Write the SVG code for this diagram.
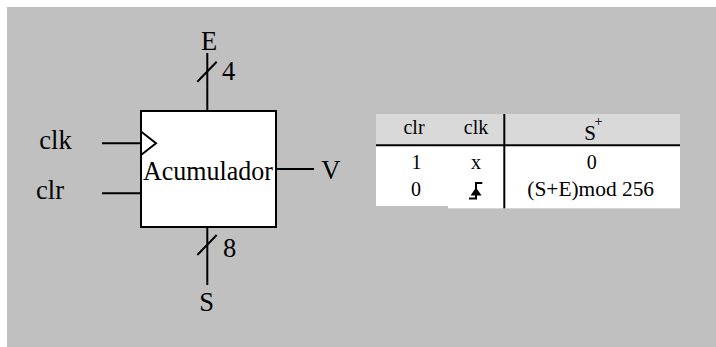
<svg xmlns="http://www.w3.org/2000/svg" width="716" height="347" viewBox="0 0 716 347">
<style>
text{font-family:"Liberation Serif","Times New Roman",serif;fill:#000}
.big{font-size:26.5px}
.sm{font-size:20px}
.ln{stroke:#000;stroke-width:2;fill:none}
</style>
<rect x="0" y="0" width="716" height="347" fill="#ffffff"/>
<rect x="7" y="7" width="709" height="340" fill="#c0c0c0"/>

<g id="acumulador" font-family="Liberation Serif, serif">
  <rect x="141" y="111" width="135" height="116" fill="#ffffff" stroke="#000" stroke-width="2"/>
  <polyline class="ln" points="141,131.5 156,143.3 141,155"/>
  <text class="big" x="208" y="179.5" text-anchor="middle" textLength="130" lengthAdjust="spacingAndGlyphs">Acumulador</text>
</g>

<g id="connectors">
  <line class="ln" x1="207.3" y1="53" x2="207.3" y2="111"/>
  <line class="ln" x1="197.3" y1="81.7" x2="216.7" y2="61.7"/>
  <line class="ln" x1="207.3" y1="227" x2="207.3" y2="285"/>
  <line class="ln" x1="197.3" y1="255" x2="216.7" y2="235"/>
  <line class="ln" x1="102" y1="143.3" x2="141" y2="143.3"/>
  <line class="ln" x1="102" y1="193.3" x2="141" y2="193.3"/>
  <line class="ln" x1="276" y1="169" x2="314" y2="169"/>
</g>

<g id="labels" font-family="Liberation Serif, serif">
  <text class="big" x="209" y="50" text-anchor="middle">E</text>
  <text class="big" x="228.5" y="79.5" text-anchor="middle">4</text>
  <text class="big" x="229.5" y="257.3" text-anchor="middle">8</text>
  <text class="big" x="206.7" y="311" text-anchor="middle">S</text>
  <text class="big" x="55.5" y="149" text-anchor="middle">clk</text>
  <text class="big" x="50" y="199" text-anchor="middle">clr</text>
  <text class="big" x="330.7" y="179.3" text-anchor="middle">V</text>
</g>

<g id="tabla" font-family="Liberation Serif, serif">
  <rect x="376" y="114" width="304" height="31" fill="#d9d9d9"/>
  <rect x="376" y="145" width="128.3" height="61" fill="#ffffff"/>
  <rect x="448" y="145" width="232" height="63.3" fill="#ffffff"/>
  <line class="ln" x1="376" y1="145.3" x2="680" y2="145.3"/>
  <line class="ln" x1="504.3" y1="114" x2="504.3" y2="208.3"/>
  <text class="sm" x="414" y="134.3" text-anchor="middle">clr</text>
  <text class="sm" x="476" y="134.3" text-anchor="middle">clk</text>
  <text x="590" y="139.5" text-anchor="middle" font-size="21">S</text>
  <text x="598.5" y="126" text-anchor="middle" font-size="15">+</text>
  <text class="sm" x="416.5" y="169" text-anchor="middle">1</text>
  <text class="sm" x="476" y="169" text-anchor="middle">x</text>
  <text class="sm" x="591.7" y="169" text-anchor="middle">0</text>
  <text class="sm" x="416" y="195.7" text-anchor="middle">0</text>
  <text class="sm" x="590.7" y="195.7" text-anchor="middle" textLength="126.7" lengthAdjust="spacingAndGlyphs">(S+E)mod 256</text>
  <polyline class="ln" stroke-width="1.6" points="469,198.6 476,198.6 476,183 482.3,183"/>
  <polygon points="476,187.5 481.5,195.5 470.5,195.5" fill="#000"/>
</g>
</svg>
